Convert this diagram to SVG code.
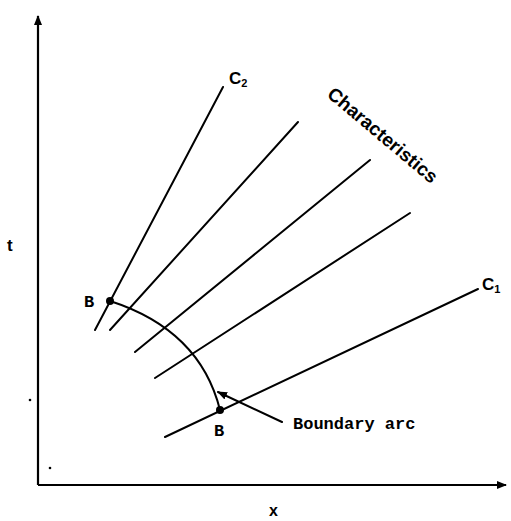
<svg xmlns="http://www.w3.org/2000/svg" width="511" height="521" viewBox="0 0 511 521">
<style>
.ln{stroke:#000;stroke-width:2;fill:none;stroke-linecap:round}
.ax{stroke:#000;stroke-width:2.2;fill:none}
.lbl{font-family:"Liberation Sans",Arial,sans-serif;font-weight:bold;fill:#000}
.mono{font-family:"Liberation Mono","DejaVu Sans Mono",monospace;font-weight:bold;fill:#000}
</style>
<defs>
<marker id="ah" markerWidth="10" markerHeight="8" refX="9" refY="4" orient="auto" markerUnits="userSpaceOnUse">
<path d="M0,0 L10,4 L0,8 Z" fill="#000"/>
</marker>
</defs>
<rect width="511" height="521" fill="#fff"/>
<g id="axes">
<line class="ax" x1="38" y1="485" x2="38" y2="16" marker-end="url(#ah)"/>
<line class="ax" x1="38" y1="485" x2="506" y2="485" marker-end="url(#ah)"/>
</g>
<g id="connectors">
<line id="c2" class="ln" x1="95" y1="330" x2="223" y2="87"/>
<line id="ch2" class="ln" x1="110" y1="330" x2="298" y2="122"/>
<line id="ch3" class="ln" x1="135" y1="352" x2="370" y2="160"/>
<line id="ch4" class="ln" x1="155" y1="378" x2="410" y2="213"/>
<line id="c1" class="ln" x1="165" y1="437" x2="478" y2="289"/>
<path id="arc" class="ln" d="M110,301 Q200,330 220,410"/>
<line id="arcptr" class="ln" x1="282" y1="422" x2="218" y2="392" marker-end="url(#ah)"/>
</g>
<g id="pointB1"><circle cx="110" cy="301" r="4"/><text class="mono" x="84" y="307" font-size="17">B</text></g>
<g id="pointB2"><circle cx="220" cy="410" r="4"/><text class="mono" x="214" y="436" font-size="17">B</text></g>
<g id="labelC2"><text class="lbl" x="229" y="84" font-size="17">C<tspan font-size="11" dy="3">2</tspan></text></g>
<g id="labelC1"><text class="lbl" x="482" y="290" font-size="17">C<tspan font-size="11" dy="3">1</tspan></text></g>
<g id="labelChar"><text class="lbl" font-size="19" transform="translate(326,96) rotate(40)">Characteristics</text></g>
<g id="labelArc"><text class="mono" x="293" y="429" font-size="17">Boundary arc</text></g>
<g id="labelT"><text class="lbl" x="7" y="251" font-size="17">t</text></g>
<g id="labelX"><text class="lbl" x="269" y="516" font-size="16">x</text></g>
<circle cx="30" cy="400" r="1.3"/>
<circle cx="50" cy="468" r="1.3"/>
</svg>
